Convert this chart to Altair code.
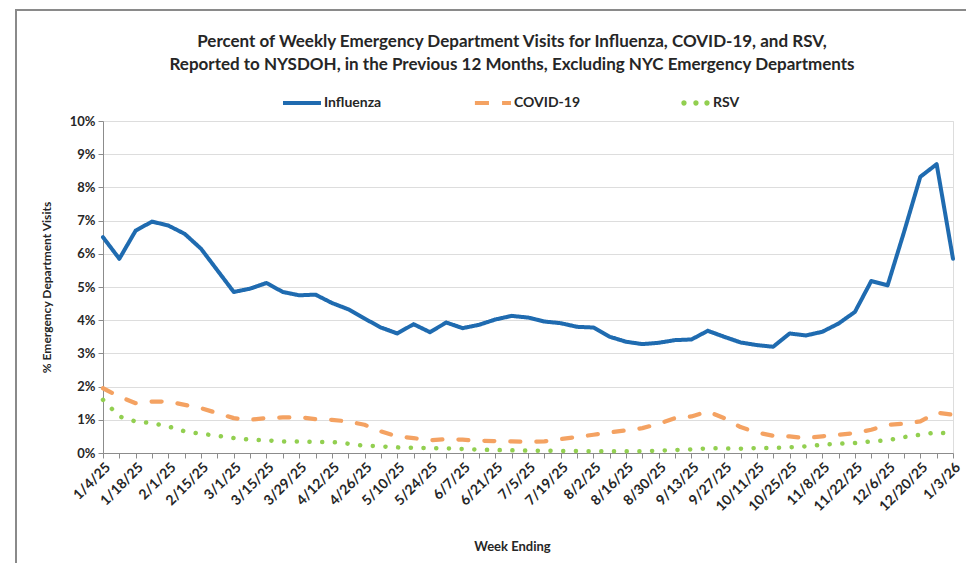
import json
import altair as alt
import pandas as pd

weeks = ["1/4/25", "1/11/25", "1/18/25", "1/25/25", "2/1/25", "2/8/25", "2/15/25", "2/22/25",
         "3/1/25", "3/8/25", "3/15/25", "3/22/25", "3/29/25", "4/5/25", "4/12/25", "4/19/25",
         "4/26/25", "5/3/25", "5/10/25", "5/17/25", "5/24/25", "5/31/25", "6/7/25", "6/14/25",
         "6/21/25", "6/28/25", "7/5/25", "7/12/25", "7/19/25", "7/26/25", "8/2/25", "8/9/25",
         "8/16/25", "8/23/25", "8/30/25", "9/6/25", "9/13/25", "9/20/25", "9/27/25", "10/4/25",
         "10/11/25", "10/18/25", "10/25/25", "11/1/25", "11/8/25", "11/15/25", "11/22/25",
         "11/29/25", "12/6/25", "12/13/25", "12/20/25", "12/27/25", "1/3/26"]

influenza = [6.5, 5.85, 6.7, 6.97, 6.85, 6.6, 6.15, 5.5, 4.85, 4.95, 5.12, 4.85, 4.75, 4.77,
             4.52, 4.33, 4.05, 3.78, 3.6, 3.88, 3.64, 3.93, 3.76, 3.86, 4.02, 4.13, 4.08, 3.96,
             3.91, 3.8, 3.78, 3.5, 3.35, 3.28, 3.32, 3.4, 3.42, 3.68, 3.5, 3.33, 3.25, 3.2,
             3.6, 3.54, 3.65, 3.9, 4.25, 5.18, 5.05, 6.65, 8.32, 8.7, 5.85]

covid = [1.95, 1.7, 1.5, 1.55, 1.55, 1.45, 1.35, 1.2, 1.05, 1.0, 1.05, 1.07, 1.08, 1.02,
         1.0, 0.95, 0.85, 0.65, 0.5, 0.45, 0.38, 0.42, 0.4, 0.37, 0.36, 0.35, 0.33, 0.35,
         0.42, 0.48, 0.55, 0.62, 0.68, 0.75, 0.88, 1.05, 1.1, 1.25, 1.05, 0.78, 0.62, 0.52,
         0.5, 0.45, 0.5, 0.55, 0.6, 0.7, 0.85, 0.88, 0.95, 1.22, 1.15]

rsv = [1.6, 1.1, 0.95, 0.9, 0.8, 0.65, 0.58, 0.52, 0.45, 0.4, 0.38, 0.35, 0.35, 0.33,
       0.33, 0.28, 0.22, 0.2, 0.17, 0.16, 0.15, 0.14, 0.12, 0.1, 0.09, 0.08, 0.07, 0.07,
       0.06, 0.06, 0.05, 0.05, 0.05, 0.05, 0.07, 0.09, 0.11, 0.14, 0.14, 0.13, 0.15, 0.15,
       0.17, 0.2, 0.25, 0.28, 0.3, 0.35, 0.38, 0.48, 0.55, 0.62, 0.57]

series_names = ["Influenza", "COVID-19", "RSV"]
series_colors = ["#1F6BB0", "#F4A262", "#92CF50"]
series_dashes = [[1, 0], [10, 16], [0.1, 12.6]]
series_widths = [4, 4.5, 6]
y_ticks = list(range(0, 11))
label_weeks = weeks[::2]


def _dot(cx, r):
    return (f"M{cx - r},0A{r},{r} 0 1,0 {cx + r},0A{r},{r} 0 1,0 {cx - r},0Z")


# legend symbols (unit square [-1,1]): solid line, dashed line, dotted line
legend_shapes = [
    "M-1,-0.105H1V0.105H-1Z",
    "M-0.9,-0.105H-0.16V0.105H-0.9Z M0.53,-0.105H1V0.105H0.53Z",
    _dot(-0.37, 0.14) + " " + _dot(0.26, 0.14) + " " + _dot(0.84, 0.14),
]

rows = []
for name, vals in zip(series_names, [influenza, covid, rsv]):
    for w, v in zip(weeks, vals):
        rows.append({"week": w, "series": name, "value": v})
df = pd.DataFrame(rows)

FONT = "Lato"
TXT = "#262626"

legend = alt.Legend(title=None, orient="none", legendX=180, legendY=-37, direction="horizontal",
                    symbolSize=1444, symbolStrokeWidth=0,
                    labelFont=FONT, labelFontWeight="bold", labelFontSize=14, labelColor=TXT,
                    labelOffset=3, columnPadding=91)

x_enc = alt.X("week:O", sort=weeks, scale=alt.Scale(type="point", padding=0),
              axis=alt.Axis(title="Week Ending", labelAngle=-45, labelOverlap=False,
                            labelExpr="indexof(" + json.dumps(label_weeks) + ", datum.value) >= 0 ? datum.label : ''",
                            labelFont=FONT, labelFontWeight="bold", labelFontSize=14, labelColor=TXT,
                            titleFont=FONT, titleFontWeight="bold", titleFontSize=13, titleColor=TXT,
                            titlePadding=27, titleX=409,
                            domainColor="#8C8C8C", tickColor="#8C8C8C", tickSize=5, grid=False))
y_enc = alt.Y("value:Q", scale=alt.Scale(domain=[0, 10], nice=False),
              axis=alt.Axis(values=y_ticks, labelExpr="datum.value + '%'", title="% Emergency Department Visits",
                            labelFont=FONT, labelFontWeight="bold", labelFontSize=13, labelColor=TXT,
                            titleFont=FONT, titleFontWeight="bold", titleFontSize=12, titleColor=TXT,
                            titlePadding=16, labelPadding=3,
                            domainColor="#8C8C8C", tickColor="#8C8C8C", tickSize=5,
                            grid=True, gridColor="#DDDDDD", gridWidth=1))

lines = alt.Chart(df).mark_line(strokeCap="round", strokeJoin="round").encode(
    x=x_enc,
    y=y_enc,
    color=alt.Color("series:N", sort=series_names,
                    scale=alt.Scale(domain=series_names, range=series_colors), legend=None),
    strokeDash=alt.StrokeDash("series:N", sort=series_names,
                              scale=alt.Scale(domain=series_names, range=series_dashes), legend=None),
    strokeWidth=alt.StrokeWidth("series:N", scale=alt.Scale(domain=series_names, range=series_widths),
                                legend=None),
)

# legend-only layer (no rows drawn): its symbols show each series' line style
legend_layer = alt.Chart(df).transform_filter("datum.value < 0").mark_point(filled=True, opacity=1).encode(
    x=x_enc,
    y=y_enc,
    color=alt.Color("series:N", sort=series_names,
                    scale=alt.Scale(domain=series_names, range=series_colors), legend=legend),
    shape=alt.Shape("series:N", sort=series_names,
                    scale=alt.Scale(domain=series_names, range=legend_shapes), legend=legend),
)

border = alt.Chart(pd.DataFrame({"k": [0]})).mark_rect(
    fill="transparent", stroke="#8A8A8A", strokeWidth=2
).encode(x=alt.value(-87), x2=alt.value(900), y=alt.value(-111), y2=alt.value(445))

chart = alt.layer(border, lines, legend_layer).resolve_scale(
    color="independent", shape="independent"
).properties(
    width=850, height=332,
    autosize=alt.AutoSizeParams(type="none"),
    padding={"left": 95, "top": 113, "right": 13, "bottom": 110},
    title=alt.TitleParams(
        text=["Percent of Weekly Emergency Department Visits for Influenza, COVID-19, and RSV,",
              "Reported to NYSDOH, in the Previous 12 Months,  Excluding NYC Emergency Departments"],
        font=FONT, fontSize=17, fontWeight="bold", color=TXT, anchor="middle",
        lineHeight=23, offset=-65, dx=-16),
).configure_view(stroke=None).configure(background="white")

chart.save("out.html", embed_options={"renderer": "svg", "actions": False})
